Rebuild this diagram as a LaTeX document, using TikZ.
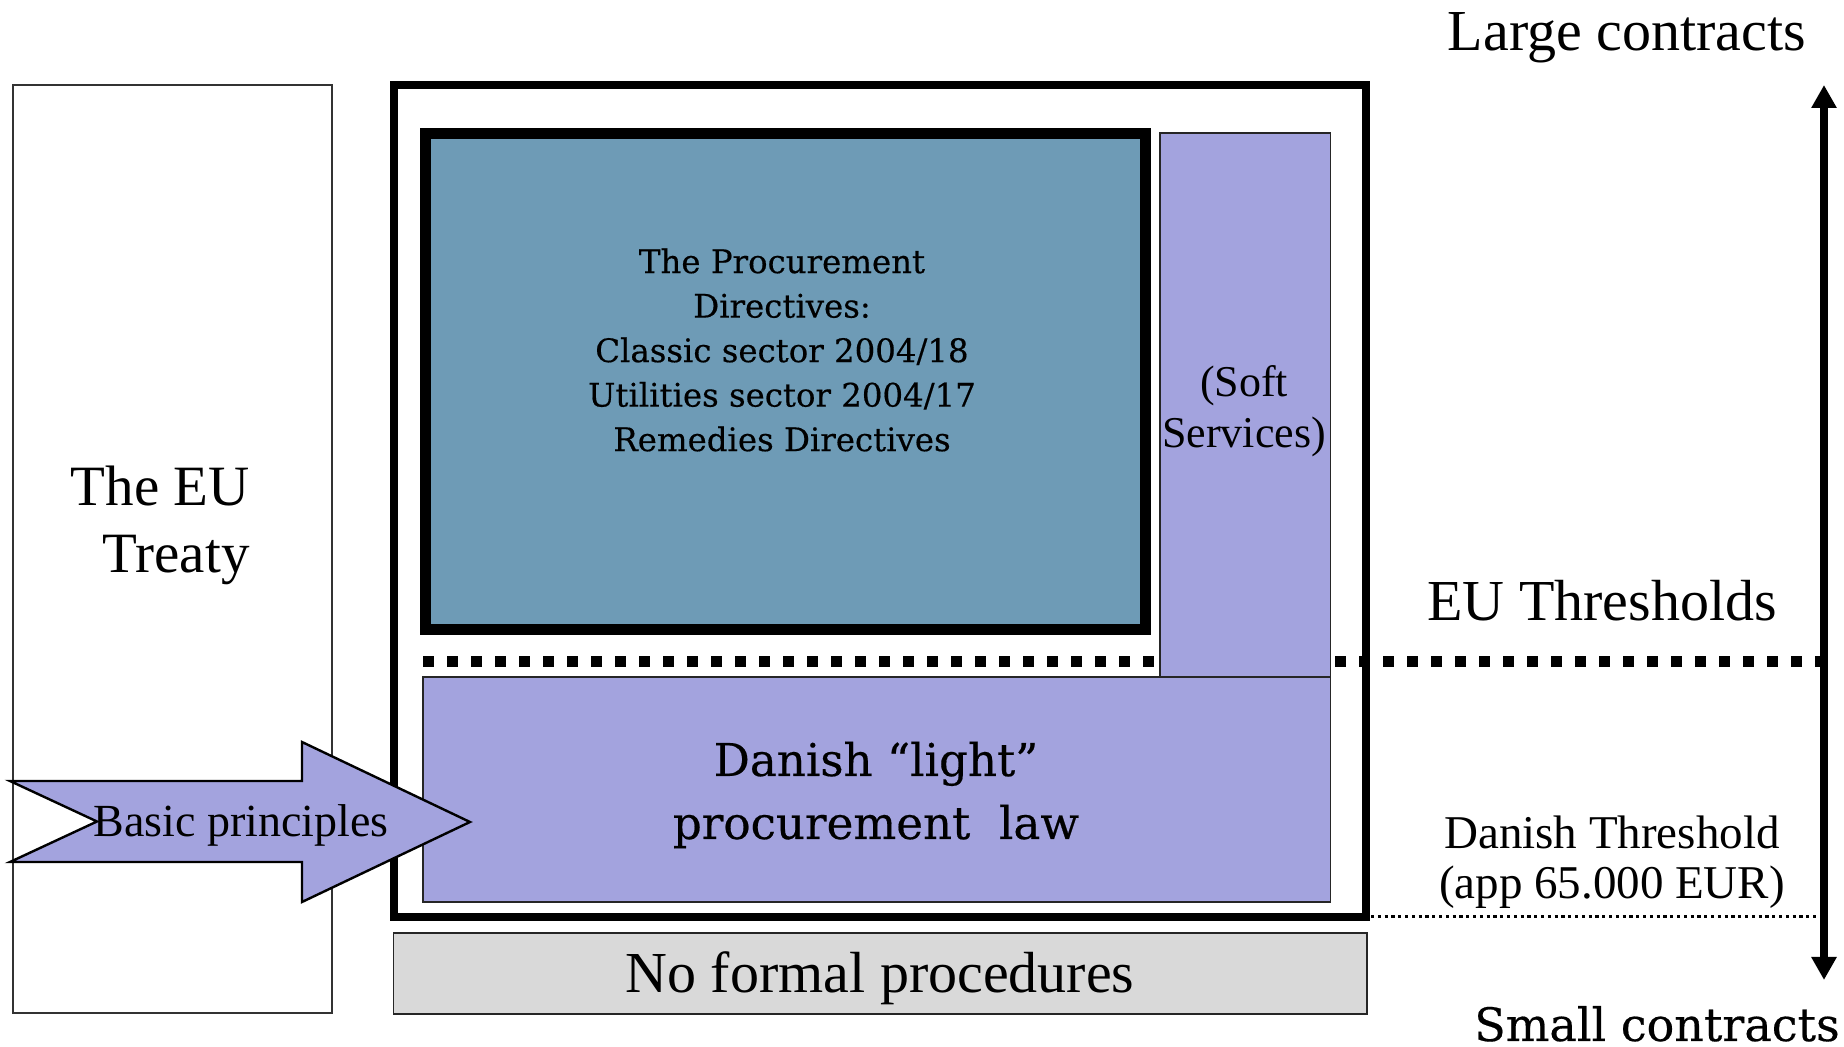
\documentclass[tikz,border=0pt]{standalone}
\usepackage{fontspec}
\setmainfont{Liberation Serif}
\newfontfamily\slabfont[FakeBold=0.4]{DejaVu Serif}
\usetikzlibrary{arrows.meta}
\definecolor{dirblue}{RGB}{110,155,182}
\definecolor{lavender}{RGB}{163,163,222}
\definecolor{boxgray}{RGB}{217,217,217}

\begin{document}
\begin{tikzpicture}[x=0.5pt,y=-0.5pt,
  thinbox/.style={draw=black!85, line width=0.9pt},
  lbl/.style={inner sep=0pt, text=black},
  axis tips/.style={{Triangle[length=11.5pt,width=12pt]}-{Triangle[length=11.5pt,width=12pt]}},
]
\useasboundingbox (0,0) rectangle (1844,1047);
\fill[white] (0,0) rectangle (1844,1047);

% the treaty column on the left
\draw[draw=black!80, line width=0.75pt, fill=white] (13,85) rectangle (332,1013);

% frame of the regulated area
\draw[line width=4pt] (393.7,85.5) rectangle (1366,917);

% directives block
\draw[line width=5.5pt, fill=dirblue] (425,133.5) rectangle (1145,629.5);

% EU threshold line
\coordinate (euL) at (423,661.5);
\coordinate (euR) at (1822,661.5);
\draw[line width=5.5pt, dash pattern=on 5.5pt off 6.5pt] (euL) -- (euR);

% soft services strip and national rules
\draw[thinbox, fill=lavender] (1160,133) rectangle (1330.5,677);
\draw[thinbox, fill=lavender] (423,677) rectangle (1330.5,902);

% below the national threshold
\draw[thinbox, fill=boxgray] (393.5,933) rectangle (1367,1014);

% national threshold line
\coordinate (dkL) at (1371,917);
\coordinate (dkR) at (1819,917);
\draw[line width=1.5pt, dash pattern=on 1.6pt off 1.8pt] (dkL) -- (dkR);

% contract size axis
\coordinate (axTop) at (1824,85);
\coordinate (axBot) at (1824,980);
\draw[line width=4pt, axis tips] (axTop) -- (axBot);

% basic principles arrow
\draw[line width=1.2pt, fill=lavender, line join=miter]
  (10,781) -- (302,781) -- (302,742) -- (470,822) -- (302,902) -- (302,862)
  -- (10,862) -- (97,821.5) -- cycle;

% labels
\node[lbl, align=right, anchor=east, font=\fontsize{28.5pt}{33.5pt}\selectfont]
  (treaty) at (250,525.5) {The EU\\Treaty};
\node[lbl, align=center, font=\slabfont\fontsize{16.2pt}{22.25pt}\selectfont]
  (directives) at (782,350) {The Procurement\\Directives:\\Classic sector 2004/18\\Utilities sector 2004/17\\Remedies Directives};
\node[lbl, align=center, font=\fontsize{22pt}{25.5pt}\selectfont]
  (soft) at (1244,411) {(Soft\\Services)};
\node[lbl, align=center, font=\slabfont\fontsize{22.6pt}{31.5pt}\selectfont]
  (danish) at (876,795) {Danish “light”\\procurement\ \ law};
\node[lbl, anchor=base, font=\fontsize{23pt}{28pt}\selectfont]
  (basic) at (241,837) {Basic principles};
\node[lbl, anchor=base, font=\fontsize{29pt}{34pt}\selectfont]
  (noformal) at (880,993) {No formal procedures};
\node[lbl, anchor=base, font=\fontsize{29pt}{34pt}\selectfont]
  (large) at (1627,51) {Large contracts};
\node[lbl, anchor=base, font=\fontsize{29pt}{34pt}\selectfont]
  (euthr) at (1602,621) {EU Thresholds};
\node[lbl, align=center, font=\fontsize{23.5pt}{25pt}\selectfont]
  (dkthr) at (1612,862) {Danish Threshold\\(app 65.000 EUR)};
\node[lbl, anchor=base, font=\slabfont\fontsize{23pt}{26pt}\selectfont]
  (small) at (1657,1041) {Small contracts};
\end{tikzpicture}
\end{document}
